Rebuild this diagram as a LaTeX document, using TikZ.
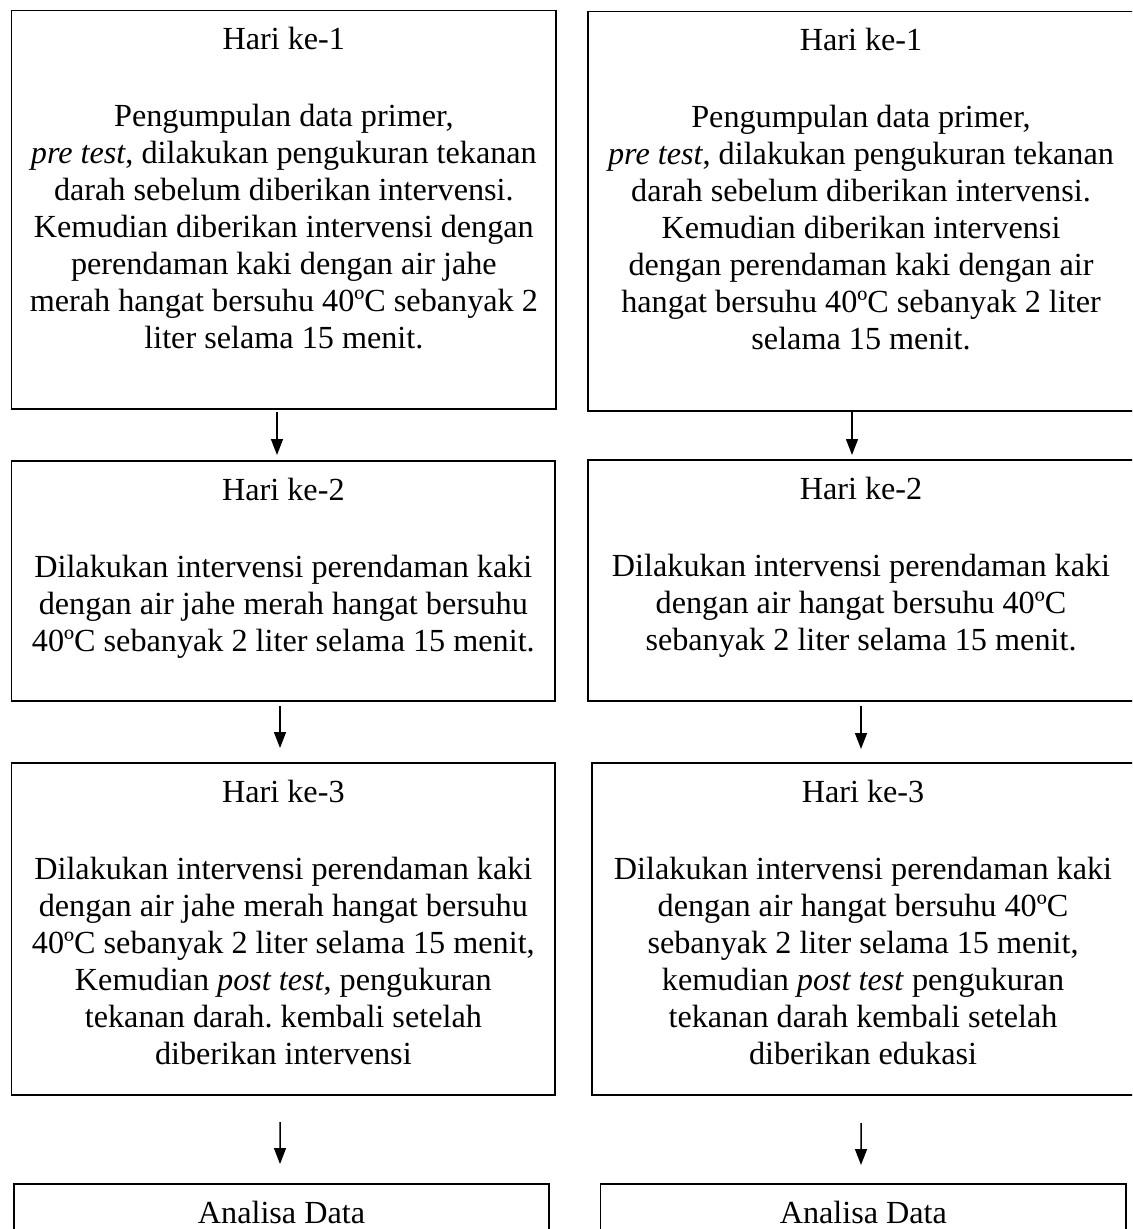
\documentclass[tikz,border=0pt]{standalone}
\usepackage{fontspec}
\setmainfont{Liberation Serif}
\usetikzlibrary{calc,arrows.meta,fit}
\frenchspacing
\begin{document}
\begin{tikzpicture}[x=0.5pt,y=-0.5pt,
  boxnode/.style={draw=black, line width=0.75pt, inner sep=0pt, outer sep=0pt, rectangle},
  txt/.style={align=center, inner sep=0pt, anchor=north, font=\fontsize{16.1pt}{18.5pt}\selectfont},
  arr/.style={-{Triangle[length=8pt,width=6pt]}, line width=0.75pt}]
\useasboundingbox (0,0) rectangle (1132,1229);
\clip (0,0) rectangle (1132,1229);
% boxes
\node[boxnode, fit={(11.7,10.5) (556,409)}] (L1) {};
\node[boxnode, fit={(588,11.5) (1134,411)}] (R1) {};
\node[boxnode, fit={(11.7,461) (555,701)}] (L2) {};
\node[boxnode, fit={(588,460) (1134,701)}] (R2) {};
\node[boxnode, fit={(11.7,763) (555,1095)}] (L3) {};
\node[boxnode, fit={(592,763) (1134,1095)}] (R3) {};
\node[boxnode, fit={(14,1184) (549,1260)}] (L4) {};
\node[boxnode, fit={(600.7,1184) (1126,1260)}] (R4) {};
% texts
\node[txt] (L1t) at ($(L1.north)+(0,16)$) {Hari ke-1\\[20pt]
Pengumpulan data primer,\\
\textit{pre test}, dilakukan pengukuran tekanan\\
darah sebelum diberikan intervensi.\\
Kemudian diberikan intervensi dengan\\
perendaman kaki dengan air jahe\\
merah hangat bersuhu 40ºC sebanyak 2\\
liter selama 15 menit.};
\node[txt] (R1t) at ($(R1.north)+(0,16)$) {Hari ke-1\\[20pt]
Pengumpulan data primer,\\
\textit{pre test}, dilakukan pengukuran tekanan\\
darah sebelum diberikan intervensi.\\
Kemudian diberikan intervensi\\
dengan perendaman kaki dengan air\\
hangat bersuhu 40ºC sebanyak 2 liter\\
selama 15 menit.};
\node[txt] (L2t) at ($(L2.north)+(0,16.7)$) {Hari ke-2\\[20pt]
Dilakukan intervensi perendaman kaki\\
dengan air jahe merah hangat bersuhu\\
40ºC sebanyak 2 liter selama 15 menit.};
\node[txt] (R2t) at ($(R2.north)+(0,16.7)$) {Hari ke-2\\[20pt]
Dilakukan intervensi perendaman kaki\\
dengan air hangat bersuhu 40ºC\\
sebanyak 2 liter selama 15 menit.};
\node[txt] (L3t) at ($(L3.north)+(0,16.7)$) {Hari ke-3\\[20pt]
Dilakukan intervensi perendaman kaki\\
dengan air jahe merah hangat bersuhu\\
40ºC sebanyak 2 liter selama 15 menit,\\
Kemudian \textit{post test}, pengukuran\\
tekanan darah. kembali setelah\\
diberikan intervensi};
\node[txt] (R3t) at ($(R3.north)+(0,16.7)$) {Hari ke-3\\[20pt]
Dilakukan intervensi perendaman kaki\\
dengan air hangat bersuhu 40ºC\\
sebanyak 2 liter selama 15 menit,\\
kemudian \textit{post test} pengukuran\\
tekanan darah kembali setelah\\
diberikan edukasi};
\node[txt] (L4t) at ($(L4.north)+(0,16.7)$) {Analisa Data};
\node[txt] (R4t) at ($(R4.north)+(0,16.7)$) {Analisa Data};
% arrows
\draw[arr] ($(L1.south)+(-6.85,3)$) -- ($(L2.north)+(-6.35,-6)$);
\draw[arr] ($(R1.south)+(-9,1)$) -- ($(R2.north)+(-9,-5)$);
\draw[arr] ($(L2.south)+(-3.35,5)$) -- ($(L3.north)+(-3.35,-15)$);
\draw[arr] ($(R2.south)+(0,5)$) -- ($(R3.north)+(-2,-14)$);
\draw[arr] ($(L3.south)+(-3.35,27)$) -- ($(L4.north)+(-1.5,-20)$);
\draw[arr] ($(R3.south)+(-2,28)$) -- ($(R4.north)+(-2.35,-19)$);
\end{tikzpicture}
\end{document}
